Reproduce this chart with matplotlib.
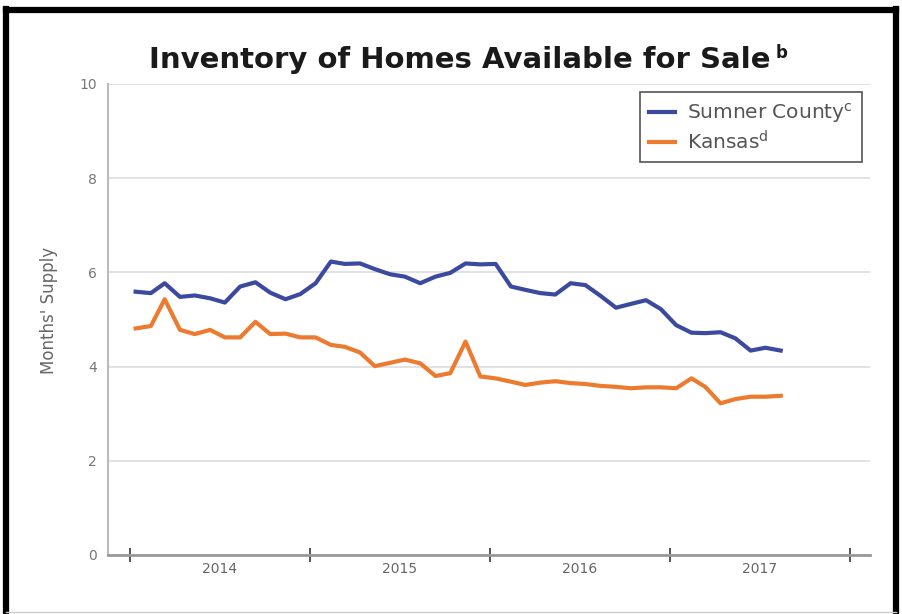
import pandas as pd
import matplotlib.pyplot as plt
from matplotlib.lines import Line2D

# monthly values, Jan 2014 - Aug 2017
months = pd.date_range('2014-01-01', periods=44, freq='MS') + pd.Timedelta(days=12)

sumner = [5.59, 5.56, 5.77, 5.48, 5.51, 5.45, 5.36, 5.70, 5.79, 5.57, 5.43, 5.54,
          5.77, 6.23, 6.18, 6.19, 6.07, 5.96, 5.91, 5.77, 5.91, 5.99, 6.19, 6.17,
          6.18, 5.70, 5.63, 5.56, 5.53, 5.77, 5.73, 5.50, 5.25, 5.33, 5.41, 5.22,
          4.88, 4.72, 4.71, 4.73, 4.60, 4.34, 4.40, 4.34]
kansas = [4.81, 4.86, 5.43, 4.78, 4.69, 4.78, 4.62, 4.62, 4.95, 4.69, 4.70, 4.62,
          4.62, 4.46, 4.42, 4.30, 4.01, 4.08, 4.15, 4.07, 3.80, 3.86, 4.53, 3.79,
          3.75, 3.68, 3.61, 3.66, 3.69, 3.65, 3.63, 3.59, 3.57, 3.54, 3.56, 3.56,
          3.54, 3.75, 3.57, 3.22, 3.31, 3.36, 3.36, 3.38]

years = ['2014', '2015', '2016', '2017']
year_starts = pd.to_datetime(['2014-01-01', '2015-01-01', '2016-01-01', '2017-01-01', '2018-01-01'])
year_mids = pd.to_datetime(['2014-07-02', '2015-07-02', '2016-07-02', '2017-07-02'])

blue = '#3b4a9e'
orange = '#ec7b30'

fig = plt.figure(figsize=(9.02, 6.14), dpi=100)
ax = fig.add_axes([0.1197, 0.0961, 0.8448, 0.7671])

ax.plot(months, sumner, color=blue, lw=3, label='Sumner County$^{\\rm c}$')
ax.plot(months, kansas, color=orange, lw=3, label='Kansas$^{\\rm d}$')

ax.set_ylim(0, 10)
ax.set_yticks([0, 2, 4, 6, 8, 10])
ax.set_xlim(pd.Timestamp('2013-11-18'), pd.Timestamp('2018-02-10'))
ax.set_xticks(year_starts)
ax.set_xticklabels([])
ax.set_xticks(year_mids, minor=True)
ax.set_xticklabels(years, minor=True)

ax.tick_params(axis='x', which='major', direction='inout', length=10, width=1.4, color='#555555')
ax.tick_params(axis='x', which='minor', length=0, pad=5, labelsize=10, labelcolor='#666666')
ax.tick_params(axis='y', length=0, pad=8, labelsize=10, labelcolor='#777777')

ax.grid(axis='y', color='#dddddd', lw=1.2)
ax.set_axisbelow(True)
for s in ['top', 'right']:
    ax.spines[s].set_visible(False)
ax.spines['left'].set_color('#bbbbbb')
ax.spines['left'].set_linewidth(1.5)
ax.spines['bottom'].set_color('#999999')
ax.spines['bottom'].set_linewidth(2)

ax.set_ylabel("Months' Supply", fontsize=12, color='#666666')
ax.yaxis.set_label_coords(-0.066, 0.52)

leg = ax.legend(loc='upper right', bbox_to_anchor=(0.9895, 0.983), borderaxespad=0,
                fontsize=14.5, handlelength=1.3, handletextpad=0.6, fancybox=False,
                framealpha=1, borderpad=0.45, labelspacing=0.25)
leg.get_frame().set_edgecolor('#555555')
leg.get_frame().set_linewidth(1.2)
for t in leg.get_texts():
    t.set_color('#555555')

title = fig.text(0.51, 0.902, 'Inventory of Homes Available for Sale',
                 ha='center', va='center', fontsize=21, fontweight='bold', color='#1a1a1a')
fig.canvas.draw()
bb = title.get_window_extent()
fig.text(bb.x1 + 5, bb.y1 + 2, 'b', transform=None, ha='left', va='top',
         fontsize=12, fontweight='bold', color='#1a1a1a')

# black frame around the picture
fig.add_artist(Line2D([0.0066, 0.0066], [0, 0.985], color='black', lw=4.5, transform=fig.transFigure))
fig.add_artist(Line2D([0.9935, 0.9935], [0, 0.985], color='black', lw=4.5, transform=fig.transFigure))
fig.add_artist(Line2D([0.0066, 0.9935], [0.983, 0.983], color='black', lw=4.5, transform=fig.transFigure))
fig.add_artist(Line2D([0.0066, 0.9935], [0.003, 0.003], color='#cccccc', lw=1, transform=fig.transFigure))

fig.savefig('out.png', dpi=100)
